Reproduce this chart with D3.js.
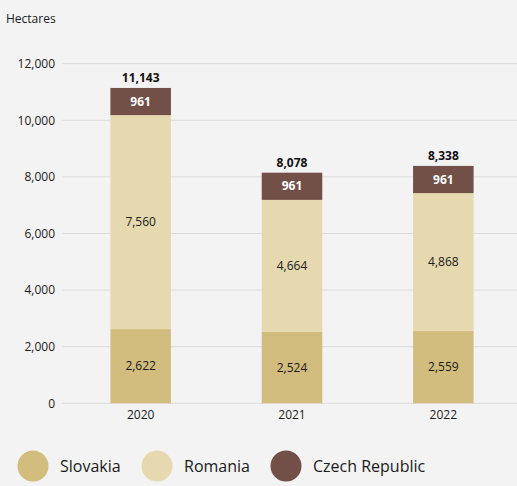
<!DOCTYPE html>
<html>
<head>
<meta charset="utf-8">
<script src="https://cdn.jsdelivr.net/npm/d3@7"></script>
<style>
  html, body { margin: 0; padding: 0; background: #f3f3f3; }
  svg { display: block; font-family: "Open Sans", "Noto Sans", sans-serif; }
</style>
</head>
<body>
<svg id="chart" width="517" height="486"></svg>
<script>
// Area in hectares by year and country
const years = ["2020", "2021", "2022"];
const slovakia = [2622, 2524, 2559];
const romania = [7560, 4664, 4868];
const czechRepublic = [961, 961, 961];
const totals = [11143, 8078, 8338];
const yTicks = [0, 2000, 4000, 6000, 8000, 10000, 12000];

const seriesNames = ["Slovakia", "Romania", "Czech Republic"];
const seriesColors = ["#d2bd7e", "#e6d9b0", "#725048"];
const labelColors = ["#1a1a1a", "#1a1a1a", "#ffffff"];

const rows = years.map((y, i) => ({
  year: y,
  "Slovakia": slovakia[i],
  "Romania": romania[i],
  "Czech Republic": czechRepublic[i]
}));

const svg = d3.select("#chart");
const fmt = d3.format(",");

const x = d3.scaleBand().domain(years).range([65, 519]).paddingInner(0.6).paddingOuter(0.3);
const y = d3.scaleLinear().domain([0, 12000]).range([403.3, 63.7]);

// gridlines
svg.append("g")
  .selectAll("line")
  .data(yTicks)
  .join("line")
  .attr("x1", 62).attr("x2", 517)
  .attr("y1", d => y(d)).attr("y2", d => y(d))
  .attr("stroke", "#dcdcdc").attr("stroke-width", 1);

// y axis labels
const yAxis = d3.axisLeft(y).tickValues(yTicks).tickFormat(fmt).tickSize(0).tickPadding(0);
svg.append("g")
  .attr("transform", "translate(55,0)")
  .call(yAxis)
  .call(g => g.select(".domain").remove())
  .call(g => g.selectAll("text").attr("font-size", 12).attr("fill", "#1a1a1a").attr("font-family", "Open Sans"));

svg.append("text")
  .attr("x", 6).attr("y", 23)
  .attr("font-size", 12).attr("fill", "#1a1a1a")
  .text("Hectares");

// x axis labels
const xAxis = d3.axisBottom(x).tickSize(0).tickPadding(7);
svg.append("g")
  .attr("transform", `translate(0,${y(0)})`)
  .call(xAxis)
  .call(g => g.select(".domain").remove())
  .call(g => g.selectAll("text").attr("font-size", 12).attr("fill", "#1a1a1a").attr("font-family", "Open Sans"));

// stacked bars
const stack = d3.stack().keys(seriesNames)(rows);
const layers = svg.append("g").selectAll("g")
  .data(stack)
  .join("g")
  .attr("fill", (d, i) => seriesColors[i]);

layers.selectAll("rect")
  .data(d => d)
  .join("rect")
  .attr("x", d => x(d.data.year))
  .attr("width", x.bandwidth())
  .attr("y", d => y(d[1]))
  .attr("height", d => y(d[0]) - y(d[1]));

// segment value labels
stack.forEach((layer, i) => {
  svg.append("g").selectAll("text")
    .data(layer)
    .join("text")
    .attr("x", d => x(d.data.year) + x.bandwidth() / 2)
    .attr("y", d => (y(d[0]) + y(d[1])) / 2)
    .attr("dy", "0.35em")
    .attr("text-anchor", "middle")
    .attr("font-size", 12)
    .attr("font-weight", i === 2 ? 700 : 400)
    .attr("fill", labelColors[i])
    .text(d => fmt(d[1] - d[0]));
});

// totals above bars
const topLayer = stack[stack.length - 1];
svg.append("g").selectAll("text")
  .data(topLayer)
  .join("text")
  .attr("x", d => x(d.data.year) + x.bandwidth() / 2)
  .attr("y", d => y(d[1]) - 6)
  .attr("text-anchor", "middle")
  .attr("font-size", 12)
  .attr("font-weight", 700)
  .attr("fill", "#111")
  .text((d, i) => fmt(totals[i]));

// legend
const legendX = [33, 157, 286];
const legend = svg.append("g").selectAll("g")
  .data(seriesNames)
  .join("g")
  .attr("transform", (d, i) => `translate(${legendX[i]},466)`);
legend.append("circle").attr("r", 15.5).attr("fill", (d, i) => seriesColors[i]);
legend.append("text")
  .attr("x", 27).attr("dy", "0.35em")
  .attr("font-size", 16).attr("fill", "#1a1a1a")
  .text(d => d);
</script>
</body>
</html>
